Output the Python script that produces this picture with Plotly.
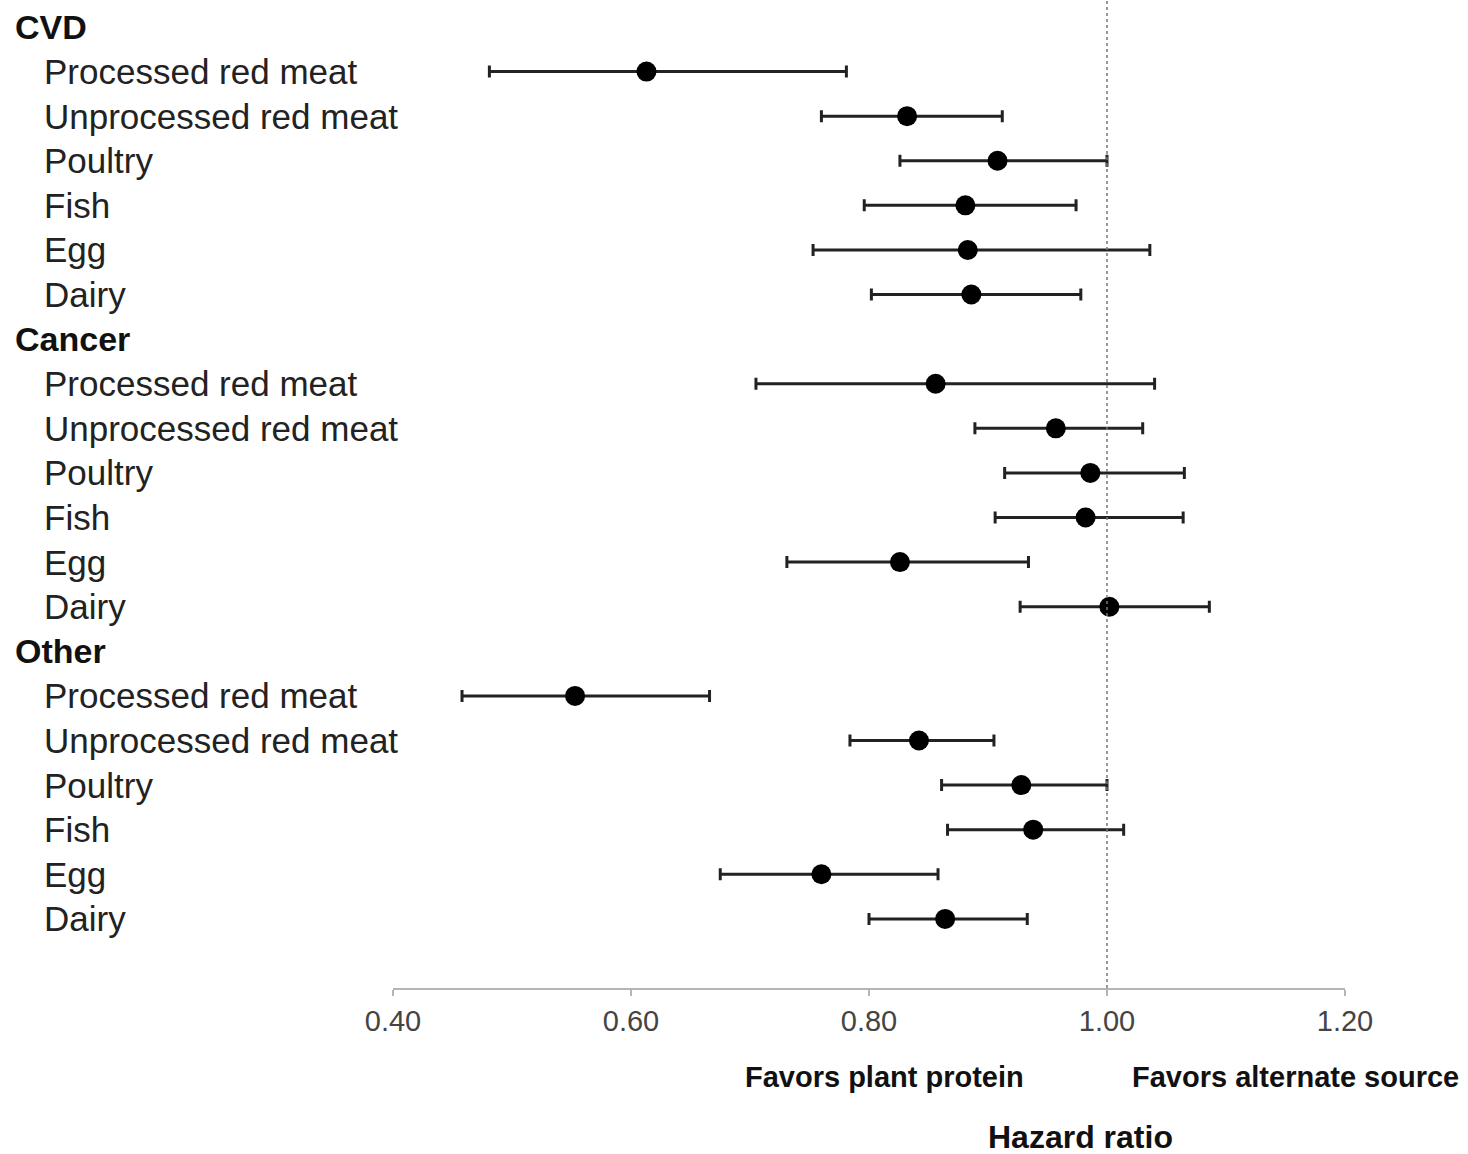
import plotly.graph_objects as go

groups = ["CVD", "Cancer", "Other"]
items = ["Processed red meat", "Unprocessed red meat", "Poultry", "Fish", "Egg", "Dairy"]

cvd_hr = [0.613, 0.832, 0.908, 0.881, 0.883, 0.886]
cvd_lo = [0.481, 0.760, 0.826, 0.796, 0.753, 0.802]
cvd_hi = [0.781, 0.912, 1.000, 0.974, 1.036, 0.978]

cancer_hr = [0.856, 0.957, 0.986, 0.982, 0.826, 1.002]
cancer_lo = [0.705, 0.889, 0.914, 0.906, 0.731, 0.927]
cancer_hi = [1.040, 1.030, 1.065, 1.064, 0.934, 1.086]

other_hr = [0.553, 0.842, 0.928, 0.938, 0.760, 0.864]
other_lo = [0.458, 0.784, 0.861, 0.866, 0.675, 0.800]
other_hi = [0.666, 0.905, 1.000, 1.014, 0.858, 0.933]

tick_vals = [0.40, 0.60, 0.80, 1.00, 1.20]
tick_text = ["0.40", "0.60", "0.80", "1.00", "1.20"]

series = [(cvd_hr, cvd_lo, cvd_hi), (cancer_hr, cancer_lo, cancer_hi), (other_hr, other_lo, other_hi)]

W, H = 1468, 1154
ml, mr, mt, mb = 393, 123, 0, 166
pw = W - ml - mr

fig = go.Figure()
annotations = []
row = 0
xs, ys, ep, em = [], [], [], []
label_x = lambda px: (px - ml) / pw
FONT = "Liberation Sans, Arial"
for g, (hr, lo, hi) in zip(groups, series):
    annotations.append(dict(text="<b>" + g + "</b>", x=label_x(13), xref="paper", y=row, yref="y",
                            xanchor="left", yanchor="middle", showarrow=False,
                            font=dict(size=34, color="#111", family=FONT)))
    row += 1
    for name, h, l, u in zip(items, hr, lo, hi):
        annotations.append(dict(text=name, x=label_x(42), xref="paper", y=row, yref="y",
                                xanchor="left", yanchor="middle", showarrow=False,
                                font=dict(size=35, color="#222", family=FONT)))
        xs.append(h); ys.append(row); ep.append(u - h); em.append(h - l)
        row += 1

fig.add_trace(go.Scatter(
    x=xs, y=ys, mode="markers",
    marker=dict(size=20, color="#000"),
    error_x=dict(type="data", symmetric=False, array=ep, arrayminus=em,
                 color="#222", thickness=3, width=6),
    showlegend=False, hoverinfo="skip"))

fig.add_shape(type="line", x0=1.0, x1=1.0, xref="x", y0=0, y1=1, yref="paper",
              line=dict(color="#777", width=1.5, dash="dot"))

annotations += [
    dict(text="<b>Favors plant protein</b>", x=label_x(884), xref="paper", y=-0.0905, yref="paper",
         xanchor="center", yanchor="middle", showarrow=False,
         font=dict(size=29, color="#111", family=FONT)),
    dict(text="<b>Favors alternate source</b>", x=label_x(1295), xref="paper", y=-0.0905, yref="paper",
         xanchor="center", yanchor="middle", showarrow=False,
         font=dict(size=29, color="#111", family=FONT)),
    dict(text="<b>Hazard ratio</b>", x=label_x(1080), xref="paper", y=-0.151, yref="paper",
         xanchor="center", yanchor="middle", showarrow=False,
         font=dict(size=32, color="#111", family=FONT)),
]

fig.update_layout(
    width=W, height=H, margin=dict(l=ml, r=mr, t=mt, b=mb),
    paper_bgcolor="white", plot_bgcolor="white",
    annotations=annotations,
    xaxis=dict(range=[0.4, 1.2], tickvals=tick_vals, ticktext=tick_text,
               showgrid=False, zeroline=False, showline=True, linecolor="#b5b5b5", linewidth=2,
               ticks="outside", ticklen=6, tickcolor="#b5b5b5", tickwidth=1.5,
               ticklabelstandoff=0,
               tickfont=dict(size=29, color="#444", family=FONT)),
    yaxis=dict(range=[21.55, -0.605], showgrid=False, zeroline=False, showline=False,
               showticklabels=False, ticks=""),
)

fig.write_html("out.html")
